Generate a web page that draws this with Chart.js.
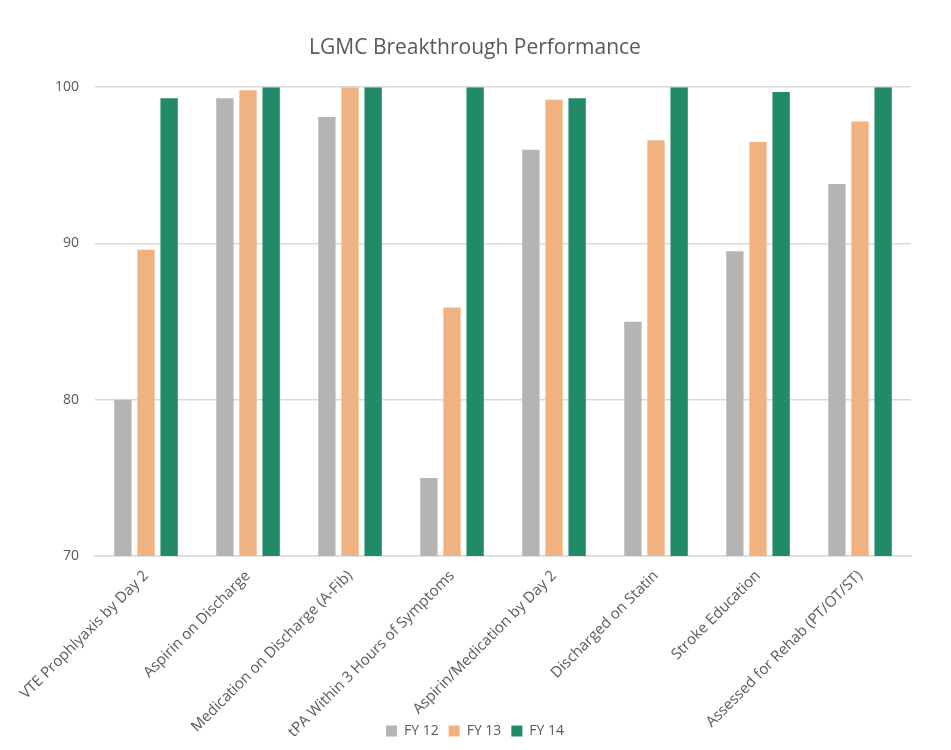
<!DOCTYPE html>
<html>
<head>
<meta charset="utf-8">
<script src="https://cdn.jsdelivr.net/npm/chart.js@4"></script>
<style>
  html, body { margin: 0; padding: 0; background: #fff; }
  #wrap { width: 951px; height: 750px; }
</style>
</head>
<body>
<div id="wrap"><canvas id="chart" width="951" height="750"></canvas></div>
<script>
// Категорії та значення
const categories = [
  "VTE Prophlyaxis by Day 2",
  "Aspirin on Discharge",
  "Medication on Discharge (A-Fib)",
  "tPA Within 3 Hours of Symptoms",
  "Aspirin/Medication by Day 2",
  "Discharged on Statin",
  "Stroke Education",
  "Assessed for Rehab (PT/OT/ST)"
];
const fy12 = [80.0, 99.3, 98.1, 75.0, 96.0, 85.0, 89.5, 93.8];
const fy13 = [89.6, 99.8, 100, 85.9, 99.2, 96.6, 96.5, 97.8];
const fy14 = [99.3, 100, 100, 100, 99.3, 100, 99.7, 100];
const seriesLabels = ["FY 12", "FY 13", "FY 14"];
const seriesColors = ["#b4b4b4", "#f1b282", "#218a69"];

const font = "'Open Sans', 'Liberation Sans', sans-serif";
const textColor = "#595959";
const labelOverlap = 30; // наскільки підписи осі X заходять у зону легенди

// повертаємо нижню межу осі X, щоб підписи не обрізались
const unclipLabels = {
  id: "unclipLabels",
  afterLayout(chart) {
    chart.scales.x.bottom += labelOverlap;
  }
};

const ctx = document.getElementById("chart").getContext("2d");
new Chart(ctx, {
  type: "bar",
  data: {
    labels: categories,
    datasets: [fy12, fy13, fy14].map((d, i) => ({
      label: seriesLabels[i],
      data: d,
      backgroundColor: seriesColors[i],
      borderWidth: 0,
      barPercentage: 0.75,
      categoryPercentage: 0.68
    }))
  },
  plugins: [unclipLabels],
  options: {
    responsive: false,
    animation: false,
    layout: { padding: { left: 39, right: 40, top: 29, bottom: 2 } },
    plugins: {
      title: {
        display: true,
        text: "LGMC Breakthrough Performance",
        color: textColor,
        font: { family: font, size: 21, weight: "normal" },
        padding: { top: 6, bottom: 27 }
      },
      legend: {
        position: "bottom",
        labels: {
          color: textColor,
          font: { family: font, size: 14 },
          boxWidth: 11,
          boxHeight: 11,
          padding: 10
        }
      },
      tooltip: { enabled: false }
    },
    scales: {
      x: {
        grid: { display: false },
        border: { color: "#d9d9d9", width: 1.5 },
        afterFit: scale => { scale.height -= labelOverlap; },
        ticks: {
          color: textColor,
          font: { family: font, size: 15 },
          minRotation: 45,
          maxRotation: 45,
          autoSkip: false
        }
      },
      y: {
        min: 70,
        max: 100,
        border: { display: false },
        grid: { color: "#d9d9d9", lineWidth: 1.5, drawTicks: false },
        ticks: {
          stepSize: 10,
          color: textColor,
          font: { family: font, size: 14 },
          padding: 16
        }
      }
    }
  }
});
</script>
</body>
</html>
